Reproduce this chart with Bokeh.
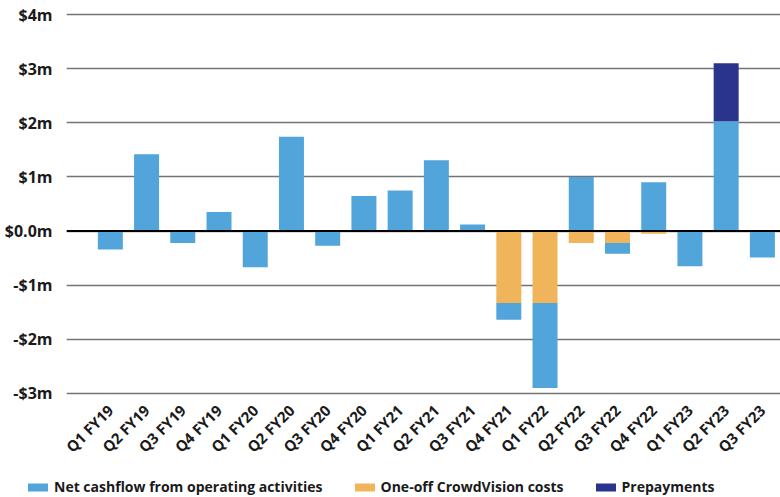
import math
import numpy as np
from bokeh.plotting import figure
from bokeh.layouts import column, row
from bokeh.models import FixedTicker, Span, Legend, LegendItem
from bokeh.embed import file_html
from bokeh.resources import INLINE

# Quarterly cash flow figures, $m
quarters = ["Q1 FY19", "Q2 FY19", "Q3 FY19", "Q4 FY19",
            "Q1 FY20", "Q2 FY20", "Q3 FY20", "Q4 FY20",
            "Q1 FY21", "Q2 FY21", "Q3 FY21", "Q4 FY21",
            "Q1 FY22", "Q2 FY22", "Q3 FY22", "Q4 FY22",
            "Q1 FY23", "Q2 FY23", "Q3 FY23"]
net_cashflow = [-0.34, 1.42, -0.22, 0.35, -0.67, 1.74, -0.27, 0.65,
                0.75, 1.31, 0.12, -0.31, -1.57, 1.00, -0.20, 0.90,
                -0.65, 2.03, -0.49]
crowdvision_costs = [0, 0, 0, 0, 0, 0, 0, 0, 0, 0, 0, -1.33, -1.33,
                     -0.22, -0.22, -0.05, 0, 0, 0]
prepayments = [0] * 17 + [1.07, 0]

y_ticks = [-3, -2, -1, 0, 1, 2, 3, 4]
y_labels = {-3: "-$3m", -2: "-$2m", -1: "-$1m", 0: "$0.0m",
            1: "$1m", 2: "$2m", 3: "$3m", 4: "$4m"}

series_names = ["Net cashflow from operating activities",
                "One-off CrowdVision costs", "Prepayments"]

BLUE = "#52a5db"
ORANGE = "#f0b45a"
NAVY = "#2b348c"
FONT = "Open Sans"
TEXT = "#1a1a1a"

# Diverging stack: positives build up from zero, negatives build down
x = np.arange(len(quarters))
pos_base = np.zeros(len(quarters))
neg_base = np.zeros(len(quarters))


def stack(values):
    v = np.asarray(values, dtype=float)
    bottom = np.where(v >= 0, pos_base, neg_base)
    top = bottom + v
    pos_base[:] = np.where(v >= 0, top, pos_base)
    neg_base[:] = np.where(v < 0, top, neg_base)
    return bottom, top


crowd_bottom, crowd_top = stack(crowdvision_costs)
net_bottom, net_top = stack(net_cashflow)
pre_bottom, pre_top = stack(prepayments)

p = figure(width=780, height=467, output_backend="svg", toolbar_location=None,
           x_range=(-1.21, 18.5), y_range=(-3.074, 4.074),
           min_border_left=66, min_border_right=0, min_border_top=10,
           min_border_bottom=70)
p.outline_line_color = None

bw = 0.69
p.vbar(x=x, width=bw, bottom=net_bottom, top=net_top,
       fill_color=BLUE, line_color=None)
p.vbar(x=x, width=bw, bottom=crowd_bottom, top=crowd_top,
       fill_color=ORANGE, line_color=None)
p.vbar(x=x, width=bw, bottom=pre_bottom, top=pre_top,
       fill_color=NAVY, line_color=None)

p.add_layout(Span(location=0, dimension="width", line_color="black",
                  line_width=2))

p.xgrid.grid_line_color = None
p.ygrid.grid_line_color = "#747474"
p.ygrid.grid_line_width = 1.5
p.ygrid.ticker = FixedTicker(ticks=y_ticks)

p.yaxis.ticker = FixedTicker(ticks=y_ticks)
p.yaxis.major_label_overrides = y_labels
p.yaxis.axis_line_color = None
p.yaxis.major_tick_line_color = None
p.yaxis.minor_tick_line_color = None
p.yaxis.major_label_standoff = 8
p.yaxis.major_label_text_font = FONT
p.yaxis.major_label_text_font_style = "bold"
p.yaxis.major_label_text_font_size = "16px"
p.yaxis.major_label_text_color = TEXT

p.xaxis.ticker = FixedTicker(ticks=list(x))
p.xaxis.major_label_overrides = {int(i): q for i, q in zip(x, quarters)}
p.xaxis.axis_line_color = None
p.xaxis.major_tick_line_color = None
p.xaxis.minor_tick_line_color = None
p.xaxis.major_label_orientation = math.pi / 4
p.xaxis.major_label_standoff = 4
p.xaxis.major_label_text_font = FONT
p.xaxis.major_label_text_font_style = "bold"
p.xaxis.major_label_text_font_size = "15px"
p.xaxis.major_label_text_color = TEXT

# Legend strip underneath the chart
leg = figure(width=780, height=30, output_backend="svg", toolbar_location=None,
             x_range=(0, 1), y_range=(0, 1), min_border=0,
             x_axis_location=None, y_axis_location=None)
leg.outline_line_color = None
leg.grid.grid_line_color = None
swatches = [leg.vbar(x=[-5], width=1, top=[-5], bottom=[-6],
                     fill_color=c, line_color=None)
            for c in (BLUE, ORANGE, NAVY)]
legend = Legend(items=[LegendItem(label=n, renderers=[r])
                       for n, r in zip(series_names, swatches)],
                orientation="horizontal", location=(25, 1))
legend.padding = 0
legend.margin = 0
legend.spacing = 29
legend.glyph_width = 25
legend.glyph_height = 10
legend.label_height = 14
legend.label_standoff = 4
legend.border_line_color = None
legend.background_fill_alpha = 0
legend.label_text_font = FONT
legend.label_text_font_style = "bold"
legend.label_text_font_size = "14px"
legend.label_text_color = TEXT
leg.add_layout(legend, "center")

layout = column(row(p), row(leg), spacing=0)
open("out.html", "w").write(file_html(layout, INLINE))
